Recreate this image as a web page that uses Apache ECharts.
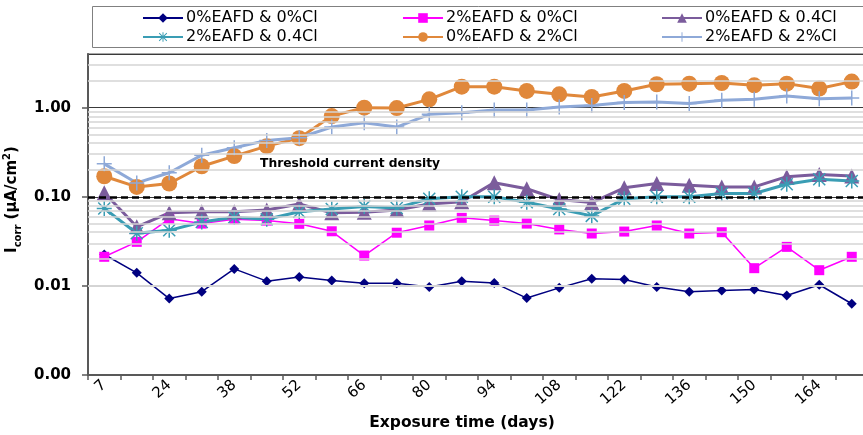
<!DOCTYPE html>
<html>
<head>
<meta charset="utf-8">
<script src="https://cdn.jsdelivr.net/npm/echarts@6/dist/echarts.min.js"></script>
<style>html,body{margin:0;padding:0;background:#fff;}#c{width:863px;height:435px;}</style>
</head>
<body>
<div id="c"></div>
<script>
const categories = ['7','14','24','31','38','45','52','59','66','73','80','87','94','101','108','115','122','129','136','143','150','157','164','171'];
const seriesNames = ['0%EAFD & 0%Cl','2%EAFD & 0%Cl','0%EAFD & 0.4Cl','2%EAFD & 0.4Cl','0%EAFD & 2%Cl','2%EAFD & 2%Cl'];
const eafd0cl0 = [0.0225,0.0140,0.0072,0.0086,0.0155,0.0113,0.0126,0.0115,0.0107,0.0107,0.0097,0.0113,0.0108,0.0073,0.0095,0.0120,0.0118,0.0097,0.0086,0.0089,0.0091,0.0078,0.0103,0.0063];
const eafd2cl0 = [0.0212,0.0312,0.0566,0.0500,0.0560,0.0540,0.0497,0.0410,0.0219,0.0395,0.0476,0.0580,0.0540,0.0500,0.0430,0.0387,0.0407,0.0476,0.0387,0.0400,0.0158,0.0274,0.0150,0.0212];
const eafd0cl04 = [0.111,0.046,0.066,0.068,0.068,0.071,0.083,0.066,0.067,0.071,0.083,0.088,0.144,0.123,0.093,0.086,0.126,0.141,0.135,0.129,0.129,0.168,0.178,0.171];
const eafd2cl04 = [0.074,0.039,0.042,0.052,0.059,0.056,0.068,0.073,0.078,0.075,0.095,0.100,0.100,0.087,0.073,0.061,0.095,0.100,0.100,0.109,0.109,0.138,0.157,0.150];
const eafd0cl2 = [0.170,0.129,0.141,0.220,0.286,0.370,0.455,0.805,1.00,0.99,1.24,1.72,1.72,1.54,1.41,1.32,1.54,1.83,1.86,1.89,1.78,1.86,1.64,1.96];
const eafd2cl2 = [0.234,0.143,0.186,0.293,0.355,0.429,0.46,0.605,0.678,0.605,0.841,0.879,0.94,0.94,1.02,1.06,1.14,1.16,1.11,1.21,1.24,1.35,1.26,1.28];
const thresholdValue = 0.1;
const yMin = 0.001, yMax = 4;

const ASTERISK = 'path://M0,9H20V11H0Z M9,0H11V20H9Z M1.3,2.7L2.7,1.3L18.7,17.3L17.3,18.7Z M17.3,1.3L18.7,2.7L2.7,18.7L1.3,17.3Z';
const PLUS = 'path://M0,9H20V11H0Z M9,0H11V20H9Z';

// minor grid lines at 2..9 of each decade
const minorLines = [];
for (let d = yMin; d < yMax; d *= 10) {
  for (let k = 2; k <= 9; k++) {
    const v = +(k * d).toPrecision(3);
    if (v < yMax) minorLines.push({ yAxis: v });
  }
}

const FONT = 'DejaVu Sans';
const chart = echarts.init(document.getElementById('c'), null, { renderer: 'canvas' });

function mk(name, data, color, width, symbol, size) {
  return {
    name, type: 'line', data, z: 3,
    symbol, symbolSize: size, showAllSymbol: true,
    lineStyle: { color, width },
    itemStyle: { color, borderWidth: 0 },
    emphasis: { disabled: true },
    animation: false
  };
}

const legendBase = {
  orient: 'vertical', top: 5, itemWidth: 40, itemHeight: 12, itemGap: 3,
  textStyle: { fontFamily: FONT, fontSize: 16, color: '#000', padding: [0, 0, 0, -2] },
  selectedMode: false
};

chart.setOption({
  animation: false,
  backgroundColor: '#fff',
  grid: { left: 88, right: -5, top: 54, bottom: 60, containLabel: false, outerBoundsMode: 'none', show: true, borderColor: '#8c8c8c', borderWidth: 1.5 },
  graphic: [
    { type: 'rect', left: 92, top: 6, shape: { width: 800, height: 41 }, style: { fill: '#fff', stroke: '#808080', lineWidth: 1 }, z: 0 },
    { type: 'text', left: 260, top: 158, style: { text: 'Threshold current density', font: 'bold 12.3px "DejaVu Sans"', fill: '#000' }, z: 10 }
  ],
  legend: [
    Object.assign({}, legendBase, { left: 137, data: [seriesNames[0], seriesNames[3]] }),
    Object.assign({}, legendBase, { left: 397, data: [seriesNames[1], seriesNames[4]] }),
    Object.assign({}, legendBase, { left: 656, data: [seriesNames[2], seriesNames[5]] })
  ],
  xAxis: {
    type: 'category', data: categories, boundaryGap: true,
    name: 'Exposure time (days)', nameLocation: 'middle', nameGap: 38,
    nameTextStyle: { fontFamily: FONT, fontWeight: 'bold', fontSize: 15.5, color: '#000', padding: [0, 32, 0, 0] },
    axisLine: { lineStyle: { color: '#595959', width: 2 } },
    axisTick: { show: true, interval: 0, length: 5, lineStyle: { color: '#595959', width: 1.5 } },
    axisLabel: { interval: 1, rotate: 42, fontFamily: FONT, fontSize: 15, color: '#000', margin: 8 },
    splitLine: { show: false }
  },
  yAxis: {
    type: 'log', logBase: 10, min: yMin, max: yMax,
    name: '{i|I}{sub|corr}{t| (μA/cm}{sup|2}{t|)}', nameLocation: 'middle', nameGap: 60, nameRotate: 90,
    nameTextStyle: {
      padding: [0, 0, 0, 30],
      rich: {
        i: { fontFamily: FONT, fontWeight: 'bold', fontSize: 15, color: '#000', verticalAlign: 'bottom' },
        sub: { fontFamily: FONT, fontWeight: 'bold', fontSize: 10, color: '#000', verticalAlign: 'bottom', padding: [0, 0, -3, 0] },
        t: { fontFamily: FONT, fontWeight: 'bold', fontSize: 15, color: '#000', verticalAlign: 'bottom' },
        sup: { fontFamily: FONT, fontWeight: 'bold', fontSize: 10, color: '#000', verticalAlign: 'top', padding: [0, 0, 8, 0] }
      }
    },
    axisLine: { show: true, lineStyle: { color: '#595959', width: 2 } },
    axisTick: { show: true, length: 6, lineStyle: { color: '#595959', width: 1.5 } },
    axisLabel: {
      showMaxLabel: false, fontFamily: FONT, fontWeight: 'bold', fontSize: 15, color: '#000', margin: 17,
      formatter: v => v.toFixed(2)
    },
    splitLine: { show: true, lineStyle: { color: '#3a3a3a', width: 1 } }
  },
  series: [
    {
      name: 'grid-helper', type: 'line', data: [], z: 1, silent: true,
      markLine: {
        silent: true, symbol: 'none', animation: false, label: { show: false },
        lineStyle: { color: '#d4d4d4', width: 1.6, type: 'solid' },
        emphasis: { disabled: true },
        data: minorLines
      }
    },
    {
      name: 'threshold-helper', type: 'line', data: [], z: 2, silent: true,
      markLine: {
        silent: true, symbol: 'none', animation: false, label: { show: false },
        emphasis: { disabled: true },
        lineStyle: { color: '#000', width: 2.5, type: [7, 4] },
        data: [{ yAxis: thresholdValue }]
      }
    },
    mk(seriesNames[0], eafd0cl0, '#000080', 1.5, 'diamond', 10),
    mk(seriesNames[1], eafd2cl0, '#FF00FF', 1.5, 'rect', 10),
    mk(seriesNames[2], eafd0cl04, '#7B5C9C', 3, 'triangle', 15),
    mk(seriesNames[3], eafd2cl04, '#3A9DB4', 3, ASTERISK, 15),
    mk(seriesNames[4], eafd0cl2, '#E0883B', 3, 'circle', 16),
    mk(seriesNames[5], eafd2cl2, '#8EA9D8', 3, PLUS, 15)
  ]
});
</script>
</body>
</html>
